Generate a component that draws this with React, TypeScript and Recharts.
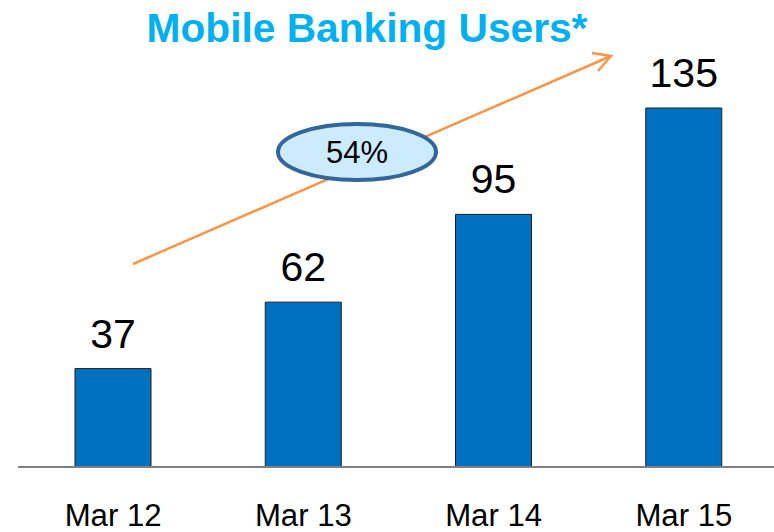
import { BarChart, Bar, XAxis, YAxis, LabelList, Customized } from 'recharts';

const periods = ['Mar 12', 'Mar 13', 'Mar 14', 'Mar 15'];
const users = [37, 62, 95, 135];
const growthLabel = '54%';
const title = 'Mobile Banking Users*';

const data = periods.map((period, i) => ({ period, users: users[i] }));

const XTick = ({ x, y, payload }: { x?: number; y?: number; payload?: { value: string } }) => (
  <text
    x={x}
    y={(y ?? 0) + 51}
    textAnchor="middle"
    fontFamily="'Liberation Sans', Arial, sans-serif"
    fontSize={31}
    textLength={97}
    lengthAdjust="spacingAndGlyphs"
    fill="#000"
  >
    {payload?.value}
  </text>
);

// Title, growth arrow and the 54% bubble
const Annotations = () => (
  <g>
    <text
      x={367}
      y={42}
      textAnchor="middle"
      fontFamily="'Liberation Sans', Arial, sans-serif"
      fontWeight="bold"
      fontSize={40.7}
      fill="#00b0f0"
    >
      {title}
    </text>
    <line x1={133} y1={264} x2={611} y2={56} stroke="#f79646" strokeWidth={2.5} />
    <polyline
      points="592,53 611,56 598,71"
      fill="none"
      stroke="#f79646"
      strokeWidth={2.5}
    />
    <ellipse cx={357} cy={152} rx={79} ry={28} fill="#cdebff" stroke="#336699" strokeWidth={4} />
    <text
      x={357}
      y={163}
      textAnchor="middle"
      fontFamily="'Liberation Sans', Arial, sans-serif"
      fontSize={31}
      fill="#000"
    >
      {growthLabel}
    </text>
  </g>
);

export default function App() {
  return (
    <div style={{ position: 'absolute', left: 0, top: 0, width: 774, height: 532, overflow: 'hidden', background: '#fff' }}>
      <BarChart
        width={780}
        height={532}
        data={data}
        margin={{ top: 108, right: 1, left: 18, bottom: 0 }}
        barCategoryGap={0}
      >
        <XAxis
          dataKey="period"
          height={65}
          tickLine={false}
          axisLine={{ stroke: '#808080', strokeWidth: 2 }}
          tick={<XTick />}
          interval={0}
        />
        <YAxis hide domain={[0, 135]} />
        <Bar dataKey="users" fill="#0070c0" stroke="#1f1f1f" strokeWidth={1} barSize={76} isAnimationActive={false}>
          <LabelList
            dataKey="users"
            position="top"
            offset={21}
            fontFamily="'Liberation Sans', Arial, sans-serif"
            fontSize={41}
            fill="#000"
          />
        </Bar>
        <Customized component={Annotations} />
      </BarChart>
    </div>
  );
}
